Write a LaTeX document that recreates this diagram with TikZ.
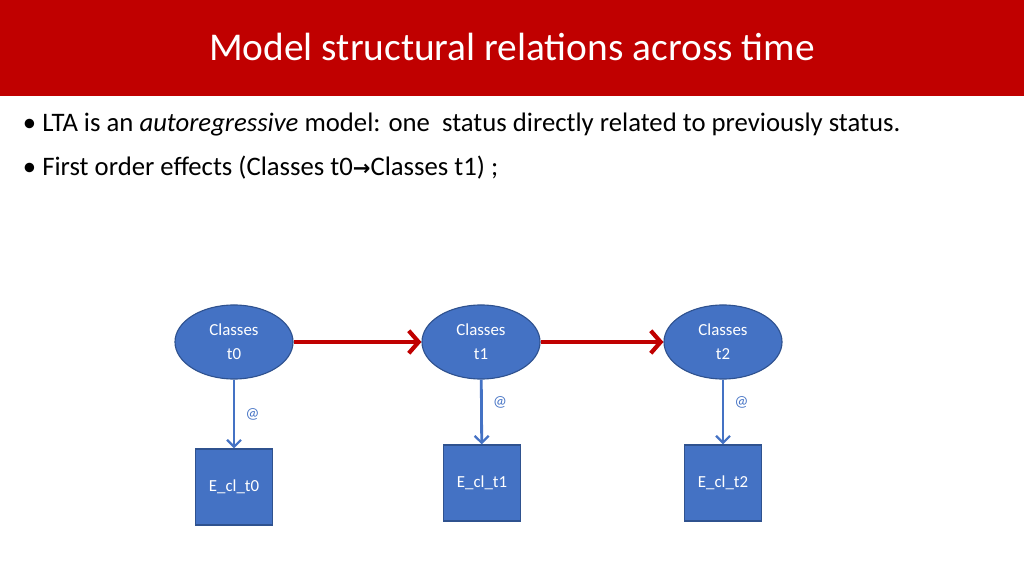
\documentclass[tikz,border=0pt]{standalone}
\usepackage{fontspec}
\setmainfont{Carlito}
\newfontfamily\symfont{DejaVu Sans}
\usetikzlibrary{arrows.meta,shapes.geometric}
\definecolor{hdrred}{HTML}{C00000}
\definecolor{clsblue}{HTML}{4472C4}
\definecolor{clsedge}{HTML}{2F528F}
\begin{document}
\begin{tikzpicture}
          [x=0.025cm,y=-0.025cm,
          cls/.style={shape=ellipse,draw=clsedge,fill=clsblue,text=white,minimum width=2.95cm,minimum height=1.85cm,inner sep=0pt,align=center,font=\fontsize{12}{17}\selectfont,thick},
          ind/.style={shape=rectangle,draw=clsedge,fill=clsblue,text=white,minimum width=1.92cm,minimum height=1.9cm,font=\fontsize{12}{14}\selectfont,thick},
          trans/.style={-{Straight Barb[length=7pt,width=16pt,line width=3pt]},line width=3.5pt,hdrred},
          meas/.style={-{Straight Barb[length=5pt,width=10pt,line width=1.6pt]},line width=2pt,clsblue},
          atlbl/.style={font=\fontsize{11}{13}\selectfont}]
          \useasboundingbox (0,0) rectangle (1024,576);
          \fill [hdrred] (0,0) rectangle (1024,96);
          \node (title) [text=white,font=\fontsize{28}{32}\selectfont] at (512,47) {Model structural relations across time};

          \node (b1) [anchor=west,font=\fontsize{19}{22}\selectfont] at (18,125) {\textbullet\ LTA is an \textit{autoregressive} model: one\ \ status directly related to previously status.};
          \node (b2) [anchor=west,font=\fontsize{19}{22}\selectfont] at (18,168) {\textbullet\ First order effects (Classes t0{\symfont\bfseries\fontsize{15}{18}\selectfont →}Classes t1) ;};

            \node (c0) [cls] at (234,342) {Classes\\t0};
            \node (c1) [cls] at (481,342) {Classes\\t1};
            \node (c2) [cls] at (723,342) {Classes\\t2};
            \node (e0) [ind] at (234,487) {E\_cl\_t0};
            \node (e1) [ind] at (482,483) {E\_cl\_t1};
            \node (e2) [ind] at (723,483) {E\_cl\_t2};
          \draw [trans] (c0) -- (c1);
          \draw [trans] (c1) -- (c2);
          \draw [meas] (c0) -- node [atlbl,right=4pt] {@} (e0);
          \draw [meas] (c1) -- node [atlbl,right=4pt,pos=0.35] {@} (e1);
          \draw [meas] (c2) -- node [atlbl,right=4pt,pos=0.35] {@} (e2);

        \end{tikzpicture}
\end{document}
